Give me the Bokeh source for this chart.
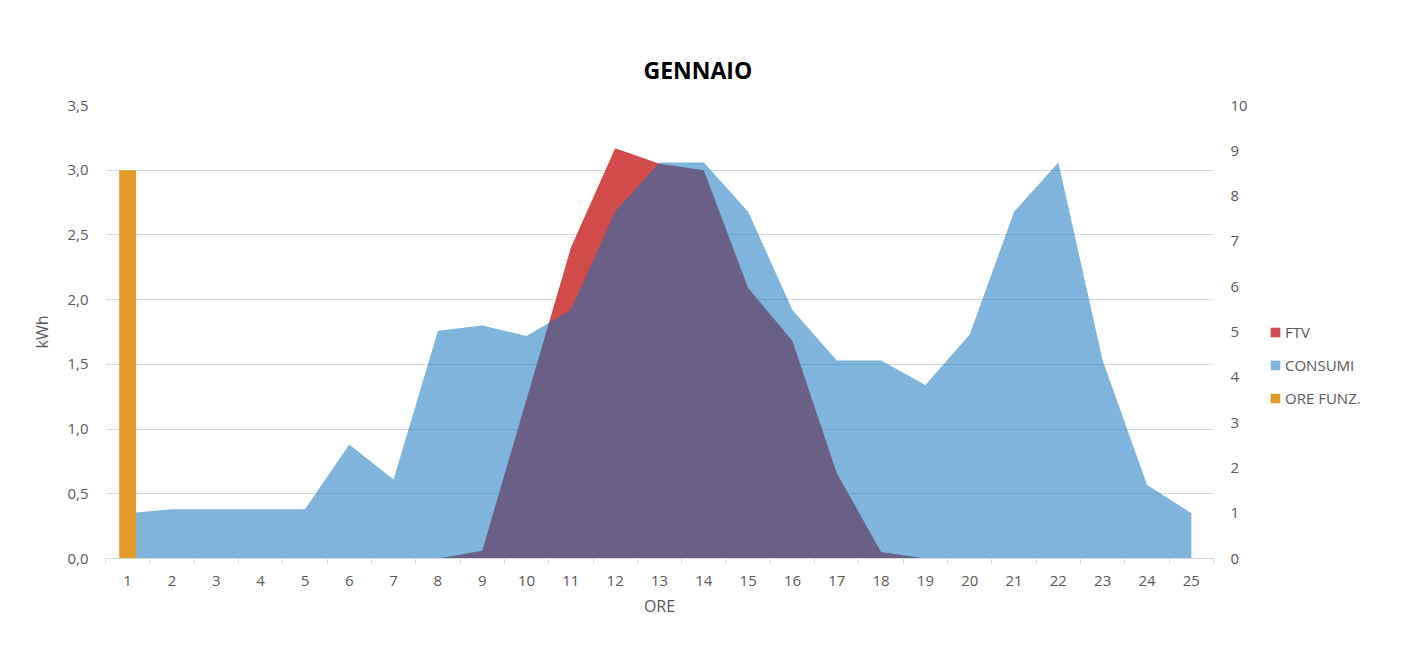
from bokeh.plotting import figure
from bokeh.layouts import row
from bokeh.models import (Range1d, LinearAxis, FixedTicker, CustomJSTickFormatter,
                          Legend, LegendItem)
from bokeh.embed import file_html
from bokeh.resources import INLINE

# ---------------- data ----------------
hours = list(range(1, 26))
ftv = [0, 0, 0, 0, 0, 0, 0, 0, 0.06, 1.23, 2.40, 3.17, 3.05, 3.00, 2.09, 1.68,
       0.66, 0.05, 0, 0, 0, 0, 0, 0, 0]
consumi = [0.35, 0.38, 0.38, 0.38, 0.38, 0.88, 0.61, 1.76, 1.80, 1.72, 1.92, 2.68,
           3.06, 3.06, 2.68, 1.92, 1.53, 1.53, 1.34, 1.73, 2.68, 3.06, 1.53, 0.57, 0.35]
ore_funz_hours = [1]
ore_funz = [3.0]
kwh_ticks = [0.0, 0.5, 1.0, 1.5, 2.0, 2.5, 3.0, 3.5]
right_ticks = list(range(0, 11))
title_text = "GENNAIO"
series_names = ["FTV", "CONSUMI", "ORE FUNZ."]

FONT = "Open Sans"
GRAY = "#595959"
GRID = "#D9D9D9"
C_FTV, A_FTV = "#CC3737", 0.9
C_CONS, A_CONS = "#0B72BE", 0.525
C_ORE = "#E39A28"

p = figure(width=1260, height=636,
           x_range=Range1d(0.5, 25.5), y_range=Range1d(0, 3.5),
           output_backend="svg", toolbar_location=None,
           min_border_left=105, min_border_right=47,
           min_border_top=105, min_border_bottom=78,
           outline_line_color=None, background_fill_color="white",
           border_fill_color="white")

p.title.text = title_text
p.title.align = "left"
p.title.offset = 538
p.title.standoff = 40
p.title.text_font = FONT
p.title.text_font_style = "bold"
p.title.text_font_size = "23px"
p.title.text_color = "#000000"

p.extra_y_ranges = {"right": Range1d(0, 10)}

# grid
p.xgrid.visible = False
p.ygrid.ticker = FixedTicker(ticks=kwh_ticks)
p.ygrid.grid_line_color = GRID
p.ygrid.grid_line_width = 1

# x axis
xa = p.xaxis[0]
xa.ticker = FixedTicker(ticks=hours, minor_ticks=[h - 0.5 for h in hours] + [hours[-1] + 0.5])
xa.axis_line_color = GRID
xa.major_tick_line_color = None
xa.major_tick_in = 0
xa.major_tick_out = 0
xa.minor_tick_line_color = GRID
xa.minor_tick_in = 0
xa.minor_tick_out = 5
xa.major_label_standoff = 12
xa.major_label_text_font = FONT
xa.major_label_text_font_size = "15px"
xa.major_label_text_color = GRAY
xa.axis_label = "ORE"
xa.axis_label_text_font = FONT
xa.axis_label_text_font_size = "16px"
xa.axis_label_text_font_style = "normal"
xa.axis_label_text_color = GRAY
xa.axis_label_standoff = 6

# left axis
ya = p.yaxis[0]
ya.ticker = FixedTicker(ticks=kwh_ticks)
ya.formatter = CustomJSTickFormatter(code="return tick.toFixed(1).replace('.', ',');")
ya.axis_line_color = None
ya.major_tick_line_color = None
ya.minor_tick_line_color = None
ya.major_tick_in = 0
ya.major_tick_out = 0
ya.major_label_standoff = 17
ya.major_label_text_font = FONT
ya.major_label_text_font_size = "15px"
ya.major_label_text_color = GRAY
ya.axis_label = "kWh"
ya.axis_label_text_font = FONT
ya.axis_label_text_font_size = "16px"
ya.axis_label_text_font_style = "normal"
ya.axis_label_text_color = GRAY
ya.axis_label_standoff = 11

# right axis
ra = LinearAxis(y_range_name="right", ticker=FixedTicker(ticks=right_ticks))
ra.axis_line_color = None
ra.major_tick_line_color = None
ra.minor_tick_line_color = None
ra.major_tick_in = 0
ra.major_tick_out = 0
ra.major_label_standoff = 17
ra.major_label_text_font = FONT
ra.major_label_text_font_size = "15px"
ra.major_label_text_color = GRAY
p.add_layout(ra, "right")

# series
p.varea(x=hours, y1=0, y2=ftv, fill_color=C_FTV, fill_alpha=A_FTV)
p.varea(x=hours, y1=0, y2=consumi, fill_color=C_CONS, fill_alpha=A_CONS)
p.vbar(x=ore_funz_hours, top=ore_funz, bottom=0, width=0.38,
       fill_color=C_ORE, line_color=None)

# ---------------- legend panel ----------------
# same series drawn far outside this panel's visible ranges: only their legend
# swatches appear
lg = figure(width=138, height=636, x_range=Range1d(100, 101), y_range=Range1d(100, 101),
            output_backend="svg", toolbar_location=None,
            min_border_left=0, min_border_right=0, min_border_top=0, min_border_bottom=0,
            outline_line_color=None, background_fill_color="white",
            border_fill_color="white")
lg.axis.visible = False
lg.grid.visible = False
k_ftv = lg.varea(x=hours, y1=0, y2=ftv, fill_color=C_FTV, fill_alpha=A_FTV)
k_cons = lg.varea(x=hours, y1=0, y2=consumi, fill_color=C_CONS, fill_alpha=A_CONS)
k_ore = lg.vbar(x=ore_funz_hours, top=ore_funz, bottom=0, width=0.38,
                fill_color=C_ORE, line_color=None)

legend = Legend(items=[LegendItem(label=series_names[0], renderers=[k_ftv]),
                       LegendItem(label=series_names[1], renderers=[k_cons]),
                       LegendItem(label=series_names[2], renderers=[k_ore])],
                location=(9, 150), orientation="vertical",
                glyph_width=12, glyph_height=12, label_height=20,
                spacing=13, padding=0, margin=0, label_standoff=4,
                border_line_color=None, background_fill_alpha=0,
                label_text_font=FONT, label_text_font_size="15px",
                label_text_color=GRAY)
lg.add_layout(legend, "center")

layout = row(p, lg, spacing=0)
open("out.html", "w").write(file_html(layout, INLINE))
